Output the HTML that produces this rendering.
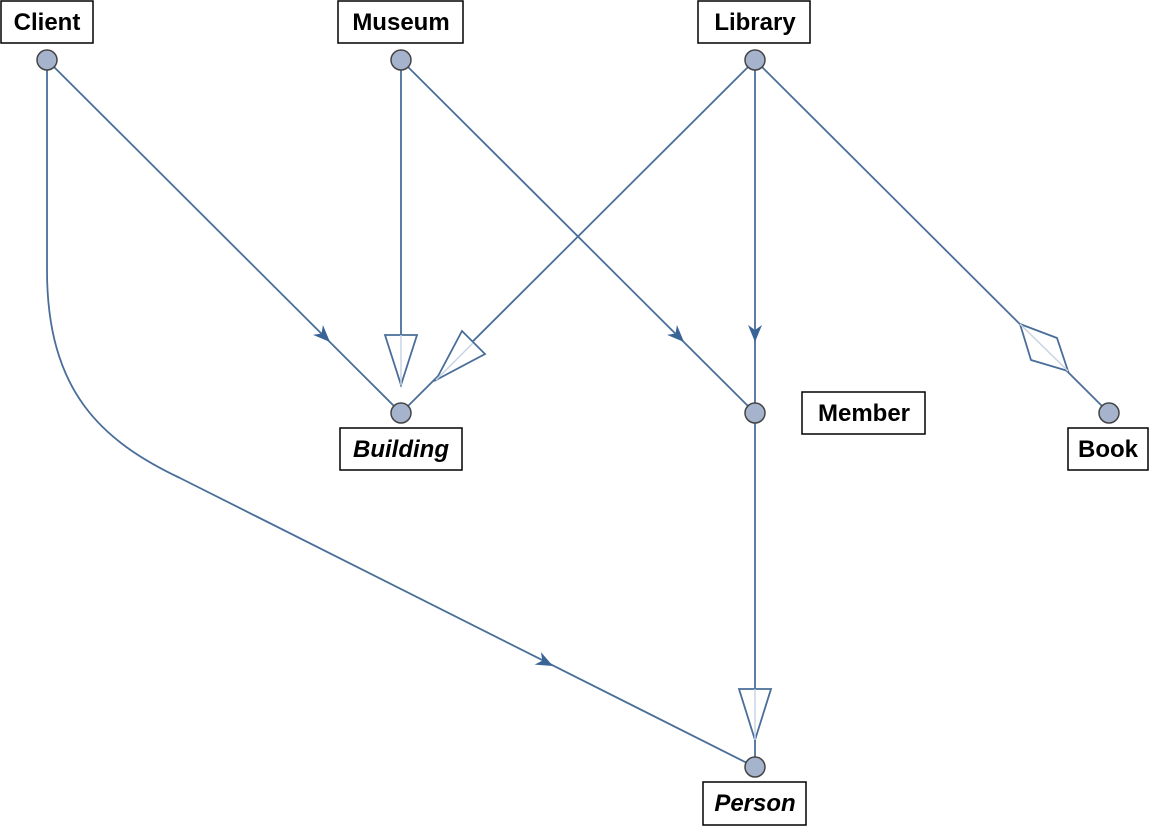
<!DOCTYPE html>
<html><head><style>
html,body{margin:0;padding:0;background:#fff;width:1152px;height:828px;overflow:hidden}
text{font-family:"Liberation Sans",sans-serif;font-weight:bold;font-size:24px}
</style></head><body>
<svg width="1152" height="828" viewBox="0 0 1152 828" xmlns="http://www.w3.org/2000/svg">
<g stroke="#4a6e9a" stroke-width="1.8" fill="none">
<line x1="47" y1="60" x2="401" y2="413"/>
<path d="M47,60 L47,270 C47,390 100,440 180,478 L755,767"/>
<line x1="401" y1="60" x2="401" y2="385"/>
<line x1="401" y1="60" x2="755" y2="413"/>
<line x1="755" y1="60" x2="401" y2="413"/>
<line x1="755" y1="60" x2="755" y2="413"/>
<line x1="755" y1="60" x2="1109" y2="413"/>
<line x1="755" y1="413" x2="755" y2="767"/>
</g>
<!-- hollow triangles -->
<g fill="#fff" stroke="#4a6e9a" stroke-width="1.8">
<polygon points="385,335 417,335 401,385"/>
<polygon points="462,331 485,354 436,380"/>
<polygon points="739,689 771,689 755,740"/>
<polygon points="1020,324 1057,338 1068,371 1031,360"/>
</g>
<g stroke="#c8d4e2" stroke-width="1.5">
<line x1="401" y1="335" x2="401" y2="385"/>
<line x1="473" y1="343" x2="436" y2="380"/>
<line x1="755" y1="689" x2="755" y2="740"/>
<line x1="1020" y1="324" x2="1068" y2="371"/>
</g>
<!-- filled arrowheads -->
<g fill="#3a6496">
<polygon points="0,0 -17,-7 -12,0 -17,7" transform="translate(330,342) rotate(45)"/>
<polygon points="0,0 -17,-7 -12,0 -17,7" transform="translate(684,342) rotate(45)"/>
<polygon points="0,0 -17,-7 -12,0 -17,7" transform="translate(755,342) rotate(90)"/>
<polygon points="0,0 -17,-7 -12,0 -17,7" transform="translate(553,666) rotate(26.7)"/>
</g>
<!-- nodes -->
<g fill="#a5b4cc" stroke="#444" stroke-width="1.5">
<circle cx="47" cy="60" r="10"/>
<circle cx="401" cy="60" r="10"/>
<circle cx="755" cy="60" r="10"/>
<circle cx="401" cy="413" r="10"/>
<circle cx="755" cy="413" r="10"/>
<circle cx="1109" cy="413" r="10"/>
<circle cx="755" cy="767" r="10"/>
</g>
<!-- labels -->
<g fill="#fff" stroke="#000" stroke-width="1.5">
<rect x="1" y="1" width="92" height="42"/>
<rect x="338" y="1" width="125" height="42"/>
<rect x="698" y="1" width="112" height="42"/>
<rect x="340" y="428" width="122" height="42"/>
<rect x="802" y="392" width="123" height="42"/>
<rect x="1068" y="428" width="80" height="42"/>
<rect x="703" y="782" width="103" height="43"/>
</g>
<g fill="#000" text-anchor="middle">
<text x="47" y="30">Client</text>
<text x="401" y="30">Museum</text>
<text x="755" y="30">Library</text>
<text x="401" y="457" font-style="italic">Building</text>
<text x="864" y="421">Member</text>
<text x="1108" y="457">Book</text>
<text x="755" y="811" font-style="italic">Person</text>
</g>
</svg>
</body></html>
